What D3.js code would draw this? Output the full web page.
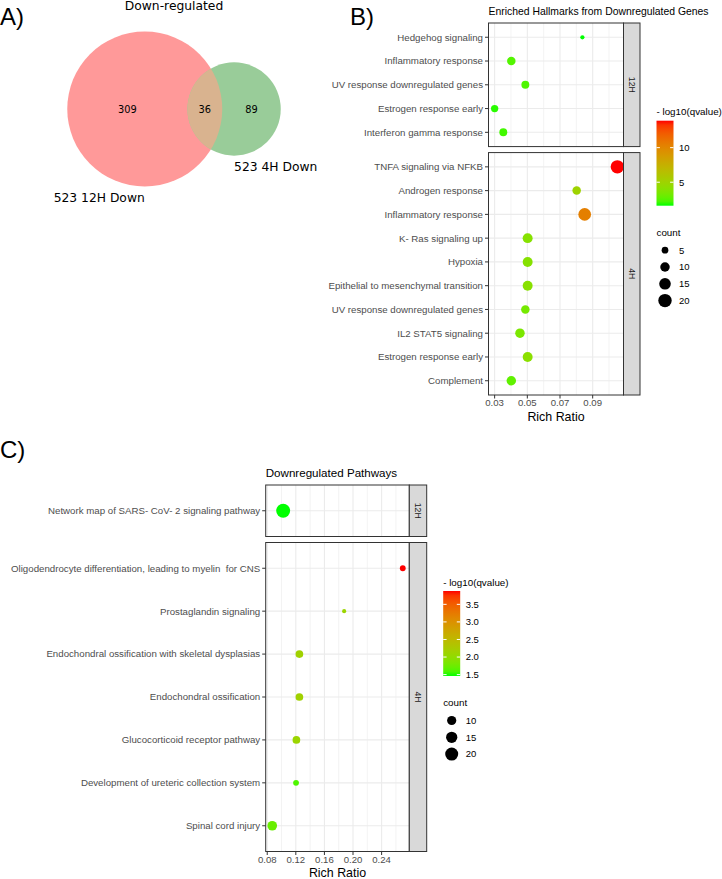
<!doctype html>
<html lang="en">
  <head>
    <meta charset="UTF-8" />
    <title>Downregulated genes: overlap, hallmarks and pathways</title>
    <script src="https://d3js.org/d3.v7.min.js"></script>
    <style>
      body {
        margin: 0;
        background: #fff;
      }
      svg text {
        font-family: 'Liberation Sans', Arial, sans-serif;
        fill: #000;
      }
      .venn text {
        font-family: 'DejaVu Sans', sans-serif;
      }
      .tag {
        font-size: 24px;
      }
      .ytick {
        font-size: 9.7px;
        fill: #4d4d4d;
        white-space: pre;
      }
      .xtick {
        font-size: 9.6px;
        fill: #4d4d4d;
      }
      .axis-title {
        font-size: 12.4px;
      }
      .strip-text {
        font-size: 8.7px;
        fill: #1a1a1a;
      }
      .legend-title {
        font-size: 9.8px;
      }
      .legend-text {
        font-size: 9.5px;
      }
    </style>
  </head>
  <body>
    <svg id="fig" width="722" height="879"></svg>

    <script>
      // Panel A: Venn region counts (12H only, both, 4H only) and set labels
      const vennRegionCounts = [309, 36, 89]
      const vennSetLabels = ['523 12H Down', '523 4H Down']
      const vennColors = ['#ff9999', '#d9b38f', '#99cc99']

      // Panel B: hallmarks, 12H facet
      const hallmarkTerms12H = [
        'Hedgehog signaling',
        'Inflammatory response',
        'UV response downregulated genes',
        'Estrogen response early',
        'Interferon gamma response',
      ]
      const hallmarkRatio12H = [0.0837, 0.0402, 0.0488, 0.03, 0.0353]
      const hallmarkLogQ12H = [1.6, 2.4, 2.3, 1.8, 2.1]
      const hallmarkCount12H = [2, 8, 7, 6, 7]

      // Panel B: hallmarks, 4H facet
      const hallmarkTerms4H = [
        'TNFA signaling via NFKB',
        'Androgen response',
        'Inflammatory response',
        'K- Ras signaling up',
        'Hypoxia',
        'Epithelial to mesenchymal transition',
        'UV response downregulated genes',
        'IL2 STAT5 signaling',
        'Estrogen response early',
        'Complement',
      ]
      const hallmarkRatio4H = [0.1051, 0.0802, 0.0851, 0.0502, 0.0502, 0.0502, 0.0488, 0.0455, 0.0502, 0.0402]
      const hallmarkLogQ4H = [13.9, 5.0, 10.4, 3.9, 3.9, 4.0, 3.3, 3.5, 4.1, 2.7]
      const hallmarkCount4H = [20, 8, 18, 11, 11, 11, 8, 10, 11, 10]
      const hallmarkTicks = [0.03, 0.05, 0.07, 0.09]
      const hallmarkColorTicks = [5, 10]
      const hallmarkSizeTicks = [5, 10, 15, 20]

      // Panel C: pathways
      const pathwayTerms12H = ['Network map of SARS- CoV- 2 signaling pathway']
      const pathwayRatio12H = [0.1023]
      const pathwayLogQ12H = [1.46]
      const pathwayCount12H = [23]

      const pathwayTerms4H = [
        'Oligodendrocyte differentiation, leading to myelin  for CNS',
        'Prostaglandin signaling',
        'Endochondral ossification with skeletal dysplasias',
        'Endochondral ossification',
        'Glucocorticoid receptor pathway',
        'Development of ureteric collection system',
        'Spinal cord injury',
      ]
      const pathwayRatio4H = [0.2696, 0.1876, 0.125, 0.125, 0.1208, 0.1203, 0.087]
      const pathwayLogQ4H = [3.88, 2.1, 2.15, 2.15, 2.1, 1.6, 1.72]
      const pathwayCount4H = [4, 2, 7, 7, 7, 4, 11]
      const pathwayTicks = [0.08, 0.12, 0.16, 0.2, 0.24]
      const pathwayColorTicks = [1.5, 2.0, 2.5, 3.0, 3.5]
      const pathwaySizeTicks = [10, 15, 20]

      const svg = d3.select('#fig')

      // panel tags
      svg.append('text').attr('class', 'tag').attr('x', 0).attr('y', 25).text('A)')
      svg.append('text').attr('class', 'tag').attr('x', 350).attr('y', 25).text('B)')
      svg.append('text').attr('class', 'tag').attr('x', 0).attr('y', 458).text('C)')

      // ---------- A) Venn ----------
      const setA = vennRegionCounts[0] + vennRegionCounts[1]
      const setB = vennRegionCounts[1] + vennRegionCounts[2]
      const vennR = d3.scaleSqrt().domain([0, setA]).range([0, 77.5])
      const rA = vennR(setA)
      const rB = vennR(setB)

      function lensArea(d, r1, r2) {
        const a1 = Math.acos((d * d + r1 * r1 - r2 * r2) / (2 * d * r1))
        const a2 = Math.acos((d * d + r2 * r2 - r1 * r1) / (2 * d * r2))
        const k = Math.sqrt((-d + r1 + r2) * (d + r1 - r2) * (d - r1 + r2) * (d + r1 + r2))
        return r1 * r1 * a1 + r2 * r2 * a2 - 0.5 * k
      }

      // find centre distance so the overlap area matches the shared count
      const targetArea = (vennRegionCounts[1] / setA) * Math.PI * rA * rA
      let lo = Math.abs(rA - rB) + 0.001
      let hi = rA + rB - 0.001
      for (let i = 0; i < 60; i++) {
        const mid = (lo + hi) / 2
        if (lensArea(mid, rA, rB) > targetArea) lo = mid
        else hi = mid
      }
      const dist = (lo + hi) / 2

      const vennMidX = 174
      const vennCy = 109
      const cxA = vennMidX - (rA + dist + rB) / 2 + rA
      const cxB = cxA + dist

      const venn = svg.append('g').attr('class', 'venn')
      venn.append('clipPath').attr('id', 'clip-a').append('circle').attr('cx', cxA).attr('cy', vennCy).attr('r', rA)
      venn.append('circle').attr('cx', cxA).attr('cy', vennCy).attr('r', rA).attr('fill', vennColors[0])
      venn.append('circle').attr('cx', cxB).attr('cy', vennCy).attr('r', rB).attr('fill', vennColors[2])
      venn
        .append('circle')
        .attr('cx', cxB)
        .attr('cy', vennCy)
        .attr('r', rB)
        .attr('clip-path', 'url(#clip-a)')
        .attr('fill', vennColors[1])

      const edges = [cxA - rA, cxB - rB, cxA + rA, cxB + rB]
      venn
        .selectAll('.region')
        .data(vennRegionCounts)
        .join('text')
        .attr('class', 'region')
        .attr('x', (d, i) => (edges[i] + edges[i + 1]) / 2)
        .attr('y', vennCy)
        .attr('dy', '0.36em')
        .attr('text-anchor', 'middle')
        .style('font-size', '9.8px')
        .text((d) => d)

      venn
        .append('text')
        .attr('x', vennMidX)
        .attr('y', 10)
        .attr('text-anchor', 'middle')
        .style('font-size', '12.3px')
        .text('Down-regulated')

      venn
        .append('text')
        .attr('x', cxA)
        .attr('y', vennCy + rA + 15.5)
        .attr('text-anchor', 'end')
        .style('font-size', '12.3px')
        .text(vennSetLabels[0])

      venn
        .append('text')
        .attr('x', cxB)
        .attr('y', vennCy + rB + 15.5)
        .attr('text-anchor', 'start')
        .style('font-size', '12.3px')
        .text(vennSetLabels[1])

      // ---------- dot plot with facets (B and C) ----------
      function drawDotPlot(cfg) {
        const g = svg.append('g')
        const facets = cfg.facets
        const unit =
          (cfg.bottom - cfg.top - cfg.gap * (facets.length - 1)) / d3.sum(facets, (f) => f.terms.length + 0.2)

        const [rLo, rHi] = d3.extent(facets.flatMap((f) => f.ratio))
        const pad = (rHi - rLo) * 0.05
        const x = d3.scaleLinear().domain([rLo - pad, rHi + pad]).range([cfg.left, cfg.right])

        const color = d3
          .scaleLinear()
          .domain(d3.extent(facets.flatMap((f) => f.logq)))
          .range(['#00ff00', '#ff0000'])
          .interpolate(d3.interpolateLab)
        const size = d3.scaleSqrt().domain([0, 20]).range([0, cfg.maxR])

        const step = cfg.ticks[1] - cfg.ticks[0]
        const minor = d3
          .range(cfg.ticks[0] - step / 2, x.domain()[1], step)
          .filter((v) => v > x.domain()[0])

        let top = cfg.top
        facets.forEach((f) => {
          const h = (f.terms.length + 0.2) * unit
          const y = d3.scalePoint().domain(f.terms).range([top, top + h]).padding(0.6)
          const rows = f.terms.map((t, i) => ({ term: t, ratio: f.ratio[i], logq: f.logq[i], count: f.count[i] }))

          // grid
          g.append('g')
            .selectAll('line')
            .data(minor)
            .join('line')
            .attr('x1', (d) => x(d))
            .attr('x2', (d) => x(d))
            .attr('y1', top)
            .attr('y2', top + h)
            .attr('stroke', '#ebebeb')
            .attr('stroke-width', 0.6)
          g.append('g')
            .selectAll('line')
            .data(cfg.ticks)
            .join('line')
            .attr('x1', (d) => x(d))
            .attr('x2', (d) => x(d))
            .attr('y1', top)
            .attr('y2', top + h)
            .attr('stroke', '#ebebeb')
            .attr('stroke-width', 1.1)
          g.append('g')
            .selectAll('line')
            .data(f.terms)
            .join('line')
            .attr('x1', cfg.left)
            .attr('x2', cfg.right)
            .attr('y1', (d) => y(d))
            .attr('y2', (d) => y(d))
            .attr('stroke', '#ebebeb')
            .attr('stroke-width', 1.1)

          // points
          g.append('g')
            .selectAll('circle')
            .data(rows)
            .join('circle')
            .attr('cx', (d) => x(d.ratio))
            .attr('cy', (d) => y(d.term))
            .attr('r', (d) => size(d.count))
            .attr('fill', (d) => color(d.logq))

          // border + strip
          g.append('rect')
            .attr('x', cfg.left)
            .attr('y', top)
            .attr('width', cfg.right - cfg.left)
            .attr('height', h)
            .attr('fill', 'none')
            .attr('stroke', '#333')
            .attr('stroke-width', 1)
          g.append('rect')
            .attr('x', cfg.right)
            .attr('y', top)
            .attr('width', cfg.stripW)
            .attr('height', h)
            .attr('fill', '#d9d9d9')
            .attr('stroke', '#333')
            .attr('stroke-width', 1)
          g.append('text')
            .attr('class', 'strip-text')
            .attr('transform', `translate(${cfg.right + cfg.stripW / 2}, ${top + h / 2}) rotate(90)`)
            .attr('text-anchor', 'middle')
            .attr('dy', '0.35em')
            .text(f.label)

          // y axis
          g.append('g')
            .selectAll('line')
            .data(f.terms)
            .join('line')
            .attr('x1', cfg.left - 3.5)
            .attr('x2', cfg.left)
            .attr('y1', (d) => y(d))
            .attr('y2', (d) => y(d))
            .attr('stroke', '#333')
          g.append('g')
            .selectAll('text')
            .data(f.terms)
            .join('text')
            .attr('class', 'ytick')
            .attr('x', cfg.left - 5.5)
            .attr('y', (d) => y(d))
            .attr('dy', '0.35em')
            .attr('text-anchor', 'end')
            .text((d) => d)

          top += h + cfg.gap
        })

        // x axis under the last facet
        const bottom = cfg.bottom
        g.append('g')
          .selectAll('line')
          .data(cfg.ticks)
          .join('line')
          .attr('x1', (d) => x(d))
          .attr('x2', (d) => x(d))
          .attr('y1', bottom)
          .attr('y2', bottom + 3.5)
          .attr('stroke', '#333')
        g.append('g')
          .selectAll('text')
          .data(cfg.ticks)
          .join('text')
          .attr('class', 'xtick')
          .attr('x', (d) => x(d))
          .attr('y', bottom + 11.4)
          .attr('text-anchor', 'middle')
          .text((d) => d3.format('.2f')(d))
        g.append('text')
          .attr('class', 'axis-title')
          .attr('x', (cfg.left + cfg.right) / 2)
          .attr('y', bottom + cfg.xTitleOffset)
          .attr('text-anchor', 'middle')
          .text('Rich Ratio')

        g.append('text')
          .attr('x', cfg.left)
          .attr('y', cfg.top - 8)
          .style('font-size', cfg.titleSize + 'px')
          .text(cfg.title)

        // legends
        const lx = cfg.right + cfg.stripW + 16.5
        const barTop = cfg.legendBarTop
        const barH = 85
        const barW = 17
        const gradId = cfg.id + '-grad'
        const grad = g
          .append('defs')
          .append('linearGradient')
          .attr('id', gradId)
          .attr('x1', 0)
          .attr('y1', 1)
          .attr('x2', 0)
          .attr('y2', 0)
        const cd = color.domain()
        d3.range(0, 1.0001, 0.05).forEach((t) => {
          grad
            .append('stop')
            .attr('offset', t)
            .attr('stop-color', color(cd[0] + t * (cd[1] - cd[0])))
        })

        g.append('text')
          .attr('class', 'legend-title')
          .attr('x', lx)
          .attr('y', barTop - 5.5)
          .text('- log10(qvalue)')
        g.append('rect')
          .attr('x', lx)
          .attr('y', barTop)
          .attr('width', barW)
          .attr('height', barH)
          .attr('fill', `url(#${gradId})`)

        const barY = d3.scaleLinear().domain(cd).range([barTop + barH, barTop])
        const ct = g.append('g').selectAll('g').data(cfg.colorTicks).join('g')
        ct.append('line')
          .attr('x1', lx)
          .attr('x2', lx + 3.4)
          .attr('y1', (d) => barY(d))
          .attr('y2', (d) => barY(d))
          .attr('stroke', '#fff')
        ct.append('line')
          .attr('x1', lx + barW - 3.4)
          .attr('x2', lx + barW)
          .attr('y1', (d) => barY(d))
          .attr('y2', (d) => barY(d))
          .attr('stroke', '#fff')
        ct.append('text')
          .attr('class', 'legend-text')
          .attr('x', lx + 22.5)
          .attr('y', (d) => barY(d))
          .attr('dy', '0.35em')
          .text((d) => (cfg.colorTicks.some((v) => v % 1 !== 0) ? d3.format('.1f')(d) : d))

        const sizeTop = barTop + barH
        g.append('text')
          .attr('class', 'legend-title')
          .attr('x', lx)
          .attr('y', sizeTop + 30.2)
          .text('count')
        const st = g
          .append('g')
          .selectAll('g')
          .data(cfg.sizeTicks)
          .join('g')
          .attr('transform', (d, i) => `translate(${lx + 8.5}, ${sizeTop + 44.5 + i * 16.8})`)
        st.append('circle')
          .attr('r', (d) => size(d))
          .attr('fill', '#000')
        st.append('text')
          .attr('class', 'legend-text')
          .attr('x', 14)
          .attr('dy', '0.35em')
          .text((d) => d)
      }

      drawDotPlot({
        id: 'hallmark',
        title: 'Enriched Hallmarks from Downregulated Genes',
        titleSize: 10.4,
        left: 488.5,
        right: 623.5,
        top: 23,
        bottom: 395,
        gap: 6,
        stripW: 16.5,
        maxR: 6.7,
        xTitleOffset: 26,
        legendBarTop: 120.7,
        ticks: hallmarkTicks,
        colorTicks: hallmarkColorTicks,
        sizeTicks: hallmarkSizeTicks,
        facets: [
          { label: '12H', terms: hallmarkTerms12H, ratio: hallmarkRatio12H, logq: hallmarkLogQ12H, count: hallmarkCount12H },
          { label: '4H', terms: hallmarkTerms4H, ratio: hallmarkRatio4H, logq: hallmarkLogQ4H, count: hallmarkCount4H },
        ],
      })

      drawDotPlot({
        id: 'pathway',
        title: 'Downregulated Pathways',
        titleSize: 11.6,
        left: 265.7,
        right: 409.3,
        top: 485,
        bottom: 851.5,
        gap: 6,
        stripW: 17.4,
        maxR: 6.5,
        xTitleOffset: 25.3,
        legendBarTop: 591,
        ticks: pathwayTicks,
        colorTicks: pathwayColorTicks,
        sizeTicks: pathwaySizeTicks,
        facets: [
          { label: '12H', terms: pathwayTerms12H, ratio: pathwayRatio12H, logq: pathwayLogQ12H, count: pathwayCount12H },
          { label: '4H', terms: pathwayTerms4H, ratio: pathwayRatio4H, logq: pathwayLogQ4H, count: pathwayCount4H },
        ],
      })
    </script>
  </body>
</html>
